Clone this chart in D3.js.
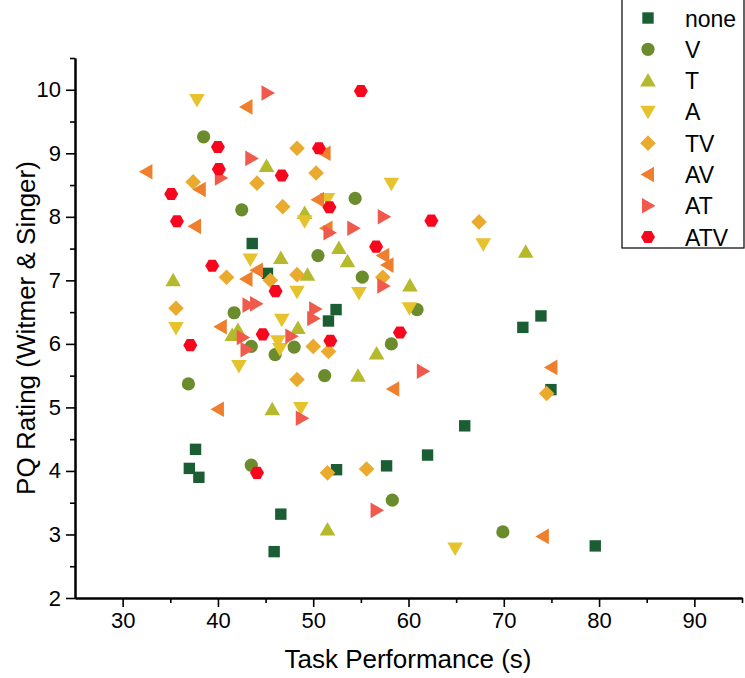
<!DOCTYPE html>
<html><head><meta charset="utf-8">
<script src="https://cdn.jsdelivr.net/npm/d3@7"></script>
<style>body{margin:0;background:#fff}svg text{font-family:"Liberation Sans",Arial,sans-serif}</style>
</head><body><svg id="c" width="745" height="678"></svg>
<script>
const categories = ["none","V","T","A","TV","AV","AT","ATV"];
const colors = ["#1b5e34","#6a8c2c","#b4ba2c","#e6c22c","#eaaa2e","#ef7f2c","#f05a4c","#f8061e"];
const xTicks = [30,40,50,60,70,80,90];
const yTicks = [2,3,4,5,6,7,8,9,10];
const noneX=[43.6,45.2,52.4,51.6,72.0,73.9,74.95,65.9,62.0,57.7,52.45,37.65,37.0,38.0,46.6,45.9,79.6];
const noneY=[7.58,7.11,6.54,6.36,6.26,6.44,5.28,4.71,4.25,4.08,4.02,4.34,4.04,3.90,3.32,2.73,2.82];
const vX=[38.5,42.5,50.5,54.4,55.15,60.9,58.2,51.2,41.7,43.5,46.0,48.0,36.9,43.5,58.3,69.9];
const vY=[9.26,8.11,7.39,8.29,7.05,6.54,6.0,5.50,6.49,5.96,5.83,5.95,5.37,4.09,3.54,3.04];
const tX=[45.1,49.1,46.6,52.7,53.6,72.3,49.4,60.15,35.3,41.5,42.1,48.4,56.65,54.7,45.7,51.5];
const tY=[8.80,8.06,7.35,7.51,7.30,7.45,7.09,6.92,7.0,6.14,6.22,6.25,5.85,5.50,4.97,3.08];
const aX=[37.8,49.1,58.2,67.85,43.4,48.3,54.8,60.1,35.6,46.7,46.3,46.5,42.2,48.7,64.9,51.5];
const aY=[9.84,7.93,8.52,7.57,7.33,6.82,6.80,6.56,6.25,6.38,6.04,5.92,5.65,4.99,2.78,8.28];
const tvX=[48.3,50.3,44.1,37.4,46.8,67.4,57.3,40.9,45.5,48.3,35.6,50.0,51.6,48.3,74.5,51.5,55.6];
const tvY=[9.08,8.69,8.53,8.55,8.16,7.92,7.05,7.05,7.0,7.09,6.56,5.96,5.88,5.44,5.22,3.97,4.03];
const avX=[43.0,32.5,38.1,37.6,50.5,51.2,51.4,57.35,57.8,43.0,44.1,40.3,58.4,75.0,40.0,74.1];
const avY=[9.73,8.71,8.43,7.85,8.27,9.0,7.82,7.39,7.24,7.02,7.16,6.27,5.29,5.63,4.97,2.97];
const atX=[45.2,43.5,40.3,57.4,54.2,51.7,57.35,50.2,50.0,43.2,44.0,42.6,47.7,43.0,61.5,48.8,56.65];
const atY=[9.95,8.92,8.61,8.0,7.82,7.75,6.91,6.55,6.40,6.61,6.63,6.10,6.12,5.91,5.57,4.83,3.38];
const atvX=[55.0,40.0,50.6,40.1,46.7,35.1,51.7,62.4,35.7,56.6,39.4,46.05,59.1,51.8,44.7,37.1,44.1];
const atvY=[9.98,9.10,9.08,8.75,8.65,8.36,8.15,7.94,7.93,7.53,7.23,6.83,6.18,6.05,6.15,5.98,3.97];

const seriesX=[noneX,vX,tX,aX,tvX,avX,atX,atvX];
const seriesY=[noneY,vY,tY,aY,tvY,avY,atY,atvY];

const svg=d3.select("#c");
const x=d3.scaleLinear().domain([25,95]).range([75,742]);
const y=d3.scaleLinear().domain([2,10.5]).range([598,58]);

function shapePath(i){
  switch(i){
    case 0: return "M-5.7,-5.7H5.7V5.7H-5.7Z";
    case 1: return d3.symbol().type(d3.symbolCircle).size(Math.PI*6.6*6.6)();
    case 2: return "M0,-7.5L7.8,6L-7.8,6Z";
    case 3: return "M0,7.5L7.8,-6L-7.8,-6Z";
    case 4: return "M0,-7.8L7.8,0L0,7.8L-7.8,0Z";
    case 5: return "M-7.5,0L6,-7.8L6,7.8Z";
    case 6: return "M7.5,0L-6,-7.8L-6,7.8Z";
    case 7: {const r=7; let p=[]; for(let k=0;k<6;k++){const a=Math.PI/3*k; p.push([r*Math.cos(a),r*Math.sin(a)]);} return "M"+p.map(q=>q.join(",")).join("L")+"Z";}
  }
}

const xAxis=d3.axisBottom(x).tickValues(xTicks).tickSize(9).tickSizeOuter(0).tickPadding(5).tickFormat(d3.format("d"));
const xMinor=d3.axisBottom(x).tickValues(d3.range(35,96,10)).tickSize(5).tickSizeOuter(0).tickFormat("");
const yAxis=d3.axisLeft(y).tickValues(yTicks).tickSize(9).tickSizeOuter(0).tickPadding(5).tickFormat(d3.format("d"));
const yMinor=d3.axisLeft(y).tickValues(d3.range(2.5,11,1)).tickSize(5).tickSizeOuter(0).tickFormat("");

function styleAxis(g){g.selectAll("path,line").attr("stroke","#000").attr("stroke-width",1.6);g.select(".domain").attr("stroke-width",2);g.selectAll("text").attr("font-size",22).attr("fill","#000").attr("font-family","Liberation Sans, Arial, sans-serif");}
svg.append("g").attr("transform","translate(0,598)").call(xMinor).call(styleAxis);
svg.append("g").attr("transform","translate(0,598)").call(xAxis).call(styleAxis);
svg.append("g").attr("transform","translate(75,0)").call(yMinor).call(styleAxis);
svg.append("g").attr("transform","translate(75,0)").call(yAxis).call(styleAxis);

svg.append("text").attr("x",408).attr("y",668).attr("text-anchor","middle").attr("font-size",26).text("Task Performance (s)");
svg.append("text").attr("transform","translate(35,328) rotate(-90)").attr("text-anchor","middle").attr("font-size",26).text("PQ Rating (Witmer & Singer)");

const plot=svg.append("g");
categories.forEach((c,i)=>{
  const pts=seriesX[i].map((v,j)=>[v,seriesY[i][j]]);
  plot.append("g").selectAll("path").data(pts).join("path")
    .attr("d",shapePath(i)).attr("fill",colors[i])
    .attr("transform",d=>`translate(${x(d[0])},${y(d[1])})`);
});

const lg=svg.append("g");
lg.append("rect").attr("x",622).attr("y",-2).attr("width",122).attr("height",250).attr("fill","#fff").attr("stroke","#000").attr("stroke-width",1.2);
const ly=d3.scalePoint().domain(categories).range([18,237]);
categories.forEach((c,i)=>{
  lg.append("path").attr("d",shapePath(i)).attr("fill",colors[i]).attr("transform",`translate(648,${ly(c)})`);
  lg.append("text").attr("x",685).attr("y",ly(c)+8.5).attr("font-size",23).text(c);
});
</script></body></html>
